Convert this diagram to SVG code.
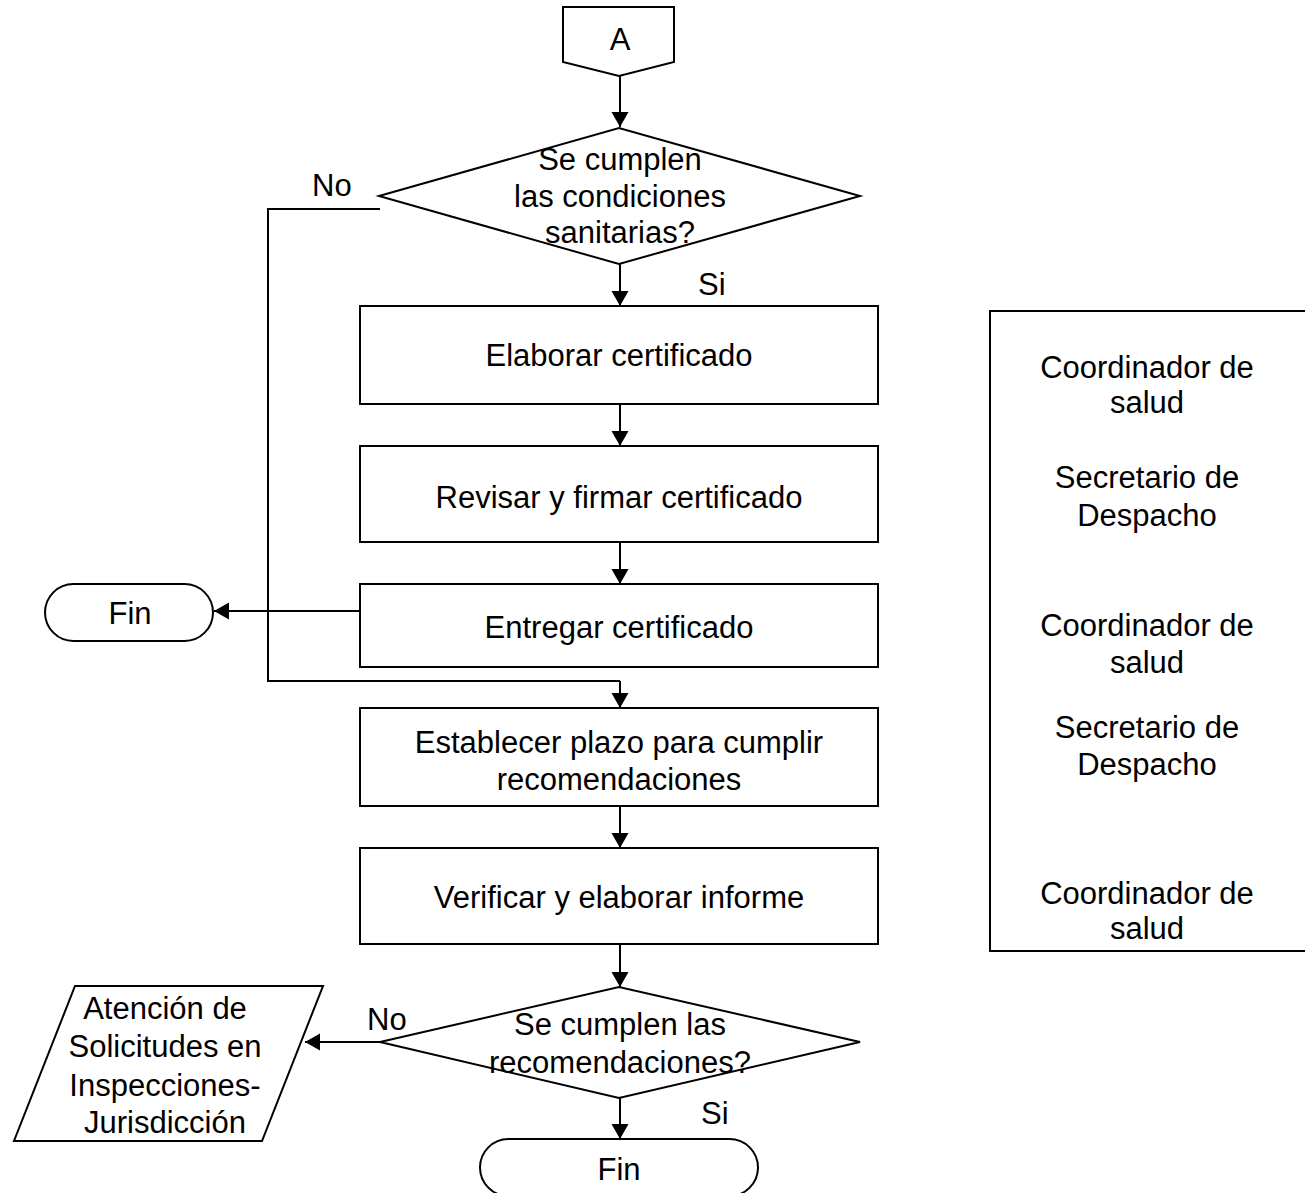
<svg xmlns="http://www.w3.org/2000/svg" width="1305" height="1193" viewBox="0 0 1305 1193">
<defs>
<style>
.s{fill:#fff;stroke:#000;stroke-width:2}
.c{fill:none;stroke:#000;stroke-width:2}
.a{marker-end:url(#ah)}
text{font-family:"Liberation Sans",Arial,sans-serif;font-size:31px;fill:#000}
.m{text-anchor:middle}
</style>
<marker id="ah" markerUnits="userSpaceOnUse" markerWidth="16" markerHeight="18" refX="15" refY="8.5" orient="auto">
<path d="M0,0 L15,8.5 L0,17 z" fill="#000"/>
</marker>
</defs>
<rect width="1305" height="1193" fill="#fff"/>
<g id="connectors">
<line class="c a" x1="620" y1="76" x2="620" y2="127"/>
<line class="c a" x1="620" y1="264" x2="620" y2="306"/>
<line class="c a" x1="620" y1="404" x2="620" y2="446"/>
<line class="c a" x1="620" y1="542" x2="620" y2="584"/>
<polyline class="c" points="380,209 268,209 268,681 620,681"/>
<line class="c a" x1="620" y1="681" x2="620" y2="708"/>
<line class="c a" x1="360" y1="611" x2="214" y2="611"/>
<line class="c a" x1="620" y1="806" x2="620" y2="848"/>
<line class="c a" x1="620" y1="944" x2="620" y2="987"/>
<line class="c a" x1="380" y1="1042" x2="305" y2="1042"/>
<line class="c a" x1="620" y1="1098" x2="620" y2="1139"/>
<text x="312" y="196">No</text>
<text x="698" y="295">Si</text>
<text x="367" y="1030">No</text>
<text x="701" y="1124">Si</text>
</g>
<g id="connA">
<polygon class="s" points="563,7 674,7 674,62 619,76 563,62"/>
<text class="m" x="620" y="50">A</text>
</g>
<g id="dec1">
<polygon class="s" points="379,196 619,128 860,196 619,264"/>
<text class="m" x="620" y="170">Se cumplen</text>
<text class="m" x="620" y="207">las condiciones</text>
<text class="m" x="620" y="243">sanitarias?</text>
</g>
<g id="elaborar">
<rect class="s" x="360" y="306" width="518" height="98"/>
<text class="m" x="619" y="366">Elaborar certificado</text>
</g>
<g id="revisar">
<rect class="s" x="360" y="446" width="518" height="96"/>
<text class="m" x="619" y="508">Revisar y firmar certificado</text>
</g>
<g id="entregar">
<rect class="s" x="360" y="584" width="518" height="83"/>
<text class="m" x="619" y="638">Entregar certificado</text>
</g>
<g id="fin1">
<rect class="s" x="45" y="584" width="168" height="57" rx="28.5" ry="28.5"/>
<text class="m" x="130" y="624">Fin</text>
</g>
<g id="establecer">
<rect class="s" x="360" y="708" width="518" height="98"/>
<text class="m" x="619" y="753">Establecer plazo para cumplir</text>
<text class="m" x="619" y="790">recomendaciones</text>
</g>
<g id="verificar">
<rect class="s" x="360" y="848" width="518" height="96"/>
<text class="m" x="619" y="908">Verificar y elaborar informe</text>
</g>
<g id="dec2">
<polygon class="s" points="380,1042 619,987 860,1042 619,1098"/>
<text class="m" x="620" y="1035">Se cumplen las</text>
<text class="m" x="620" y="1073">recomendaciones?</text>
</g>
<g id="atencion">
<polygon class="s" points="75,986 323,986 262,1141 14,1141"/>
<text class="m" x="165" y="1019">Atención de</text>
<text class="m" x="165" y="1057">Solicitudes en</text>
<text class="m" x="165" y="1096">Inspecciones-</text>
<text class="m" x="165" y="1133">Jurisdicción</text>
</g>
<g id="fin2">
<rect class="s" x="480" y="1139" width="278" height="57" rx="28.5" ry="28.5"/>
<text class="m" x="619" y="1180">Fin</text>
</g>
<g id="responsables">
<polyline class="c" points="1306,311 990,311 990,951 1306,951"/>
<text class="m" x="1147" y="378">Coordinador de</text>
<text class="m" x="1147" y="413">salud</text>
<text class="m" x="1147" y="488">Secretario de</text>
<text class="m" x="1147" y="526">Despacho</text>
<text class="m" x="1147" y="636">Coordinador de</text>
<text class="m" x="1147" y="673">salud</text>
<text class="m" x="1147" y="738">Secretario de</text>
<text class="m" x="1147" y="775">Despacho</text>
<text class="m" x="1147" y="904">Coordinador de</text>
<text class="m" x="1147" y="939">salud</text>
</g>
</svg>
